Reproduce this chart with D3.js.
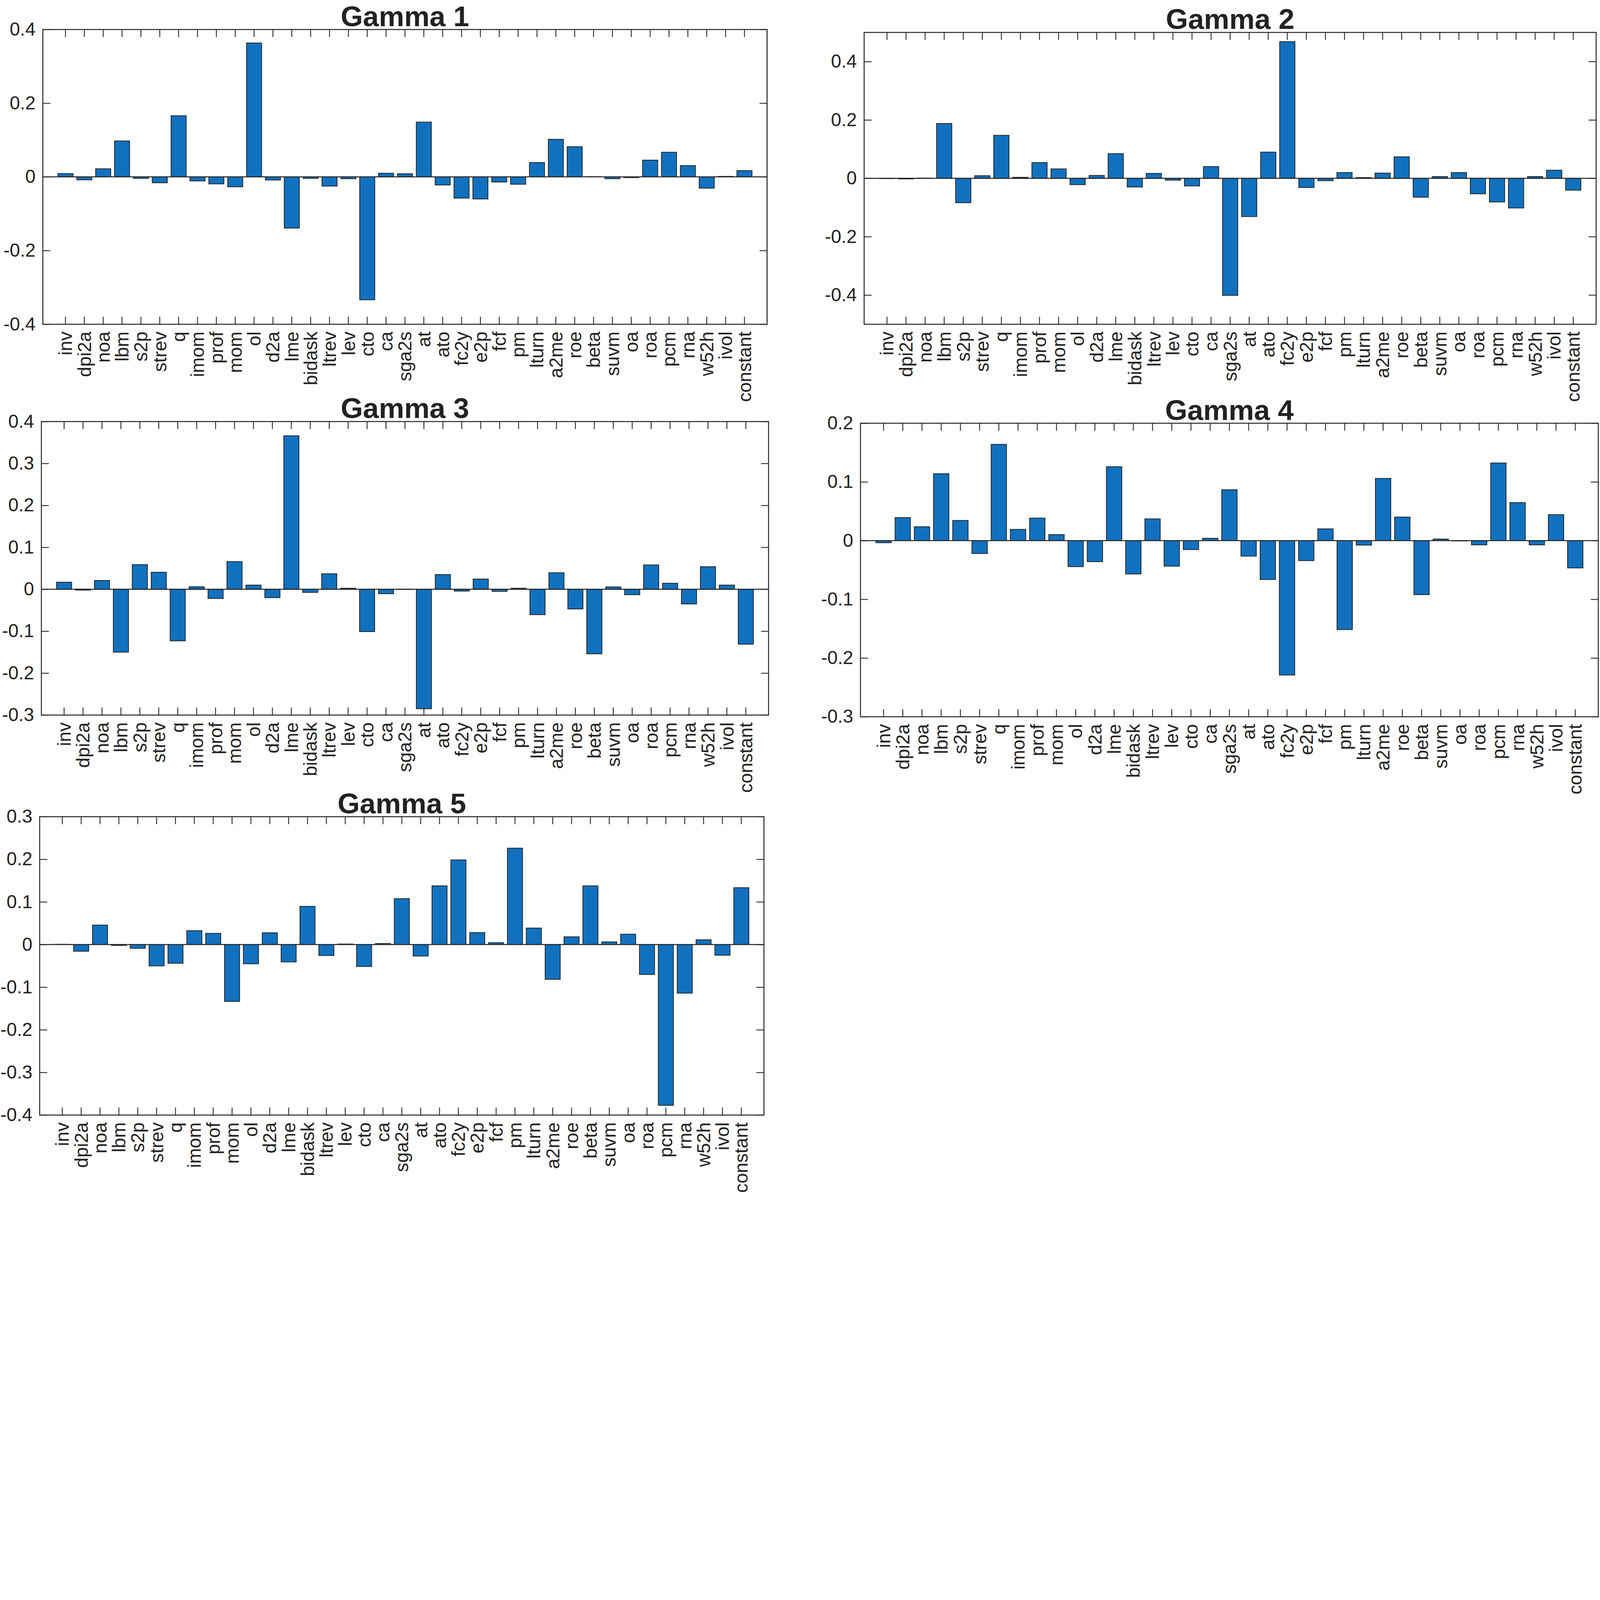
<!DOCTYPE html>
<html>
<head>
<meta charset="utf-8">
<script src="https://cdn.jsdelivr.net/npm/d3@7"></script>
<style>
  html, body { margin: 0; padding: 0; background: #fff; overflow: hidden; }
  svg { display: block; width: 100vw; height: 100vh; }
  text { font-family: "Liberation Sans", Arial, Helvetica, sans-serif; fill: #222; }
</style>
</head>
<body>
<svg id="chart" viewBox="0 0 6612 4932" preserveAspectRatio="xMinYMin meet"></svg>
<script>
// factor names, same order in every panel
var categories = ["inv","dpi2a","noa","lbm","s2p","strev","q","imom","prof","mom","ol","d2a","lme","bidask","ltrev","lev","cto","ca","sga2s","at","ato","fc2y","e2p","fcf","pm","lturn","a2me","roe","beta","suvm","oa","roa","pcm","rna","w52h","ivol","constant"];

var gamma1 = [0.009,-0.008,0.022,0.0975,-0.004,-0.016,0.166,-0.011,-0.019,-0.027,0.3635,-0.0085,-0.139,-0.004,-0.025,-0.005,-0.3336,0.010,0.0085,0.1487,-0.022,-0.0576,-0.060,-0.014,-0.020,0.039,0.102,0.082,0.0005,-0.005,-0.002,0.0455,0.067,0.0306,-0.0306,0.0014,0.017];
var gamma2 = [-0.001,-0.002,0.001,0.188,-0.0836,0.009,0.1474,0.0036,0.054,0.0324,-0.0216,0.0099,0.0845,-0.0297,0.017,-0.0063,-0.026,0.0404,-0.401,-0.131,0.0899,0.4683,-0.0315,-0.0081,0.0198,0.0027,0.018,0.0737,-0.0647,0.0063,0.0198,-0.053,-0.081,-0.1016,0.0063,0.0279,-0.0404];
var gamma3 = [0.0169,-0.002,0.021,-0.150,0.0588,0.0406,-0.123,0.006,-0.022,0.066,0.010,-0.020,0.366,-0.0075,0.037,0.0025,-0.101,-0.0106,-0.0006,-0.285,0.035,-0.0044,0.0244,-0.005,0.0025,-0.0606,0.0394,-0.047,-0.154,0.0056,-0.013,0.058,0.0144,-0.035,0.0538,0.010,-0.131];
var gamma4 = [-0.0036,0.0393,0.0237,0.114,0.0344,-0.0219,0.164,0.0192,0.0384,0.0103,-0.0443,-0.0358,0.126,-0.0568,0.0371,-0.0434,-0.0152,0.004,0.0867,-0.0264,-0.0662,-0.2289,-0.034,0.0201,-0.1515,-0.0076,0.106,0.0402,-0.092,0.0027,-0.0005,-0.0072,0.1323,0.0648,-0.0072,0.0443,-0.0465];
var gamma5 = [0.0006,-0.0157,0.0457,-0.002,-0.0088,-0.050,-0.0439,0.0326,0.0263,-0.1335,-0.0451,0.0276,-0.0407,0.0896,-0.0257,0.0013,-0.0514,0.0025,0.1078,-0.0269,0.1378,0.1986,0.0282,0.0044,0.2262,0.0388,-0.0815,0.0182,0.1378,0.0063,0.0244,-0.0702,-0.3772,-0.114,0.0113,-0.025,0.1335];

var titles = ["Gamma 1","Gamma 2","Gamma 3","Gamma 4","Gamma 5"];
var yTicks1 = [-0.4,-0.2,0,0.2,0.4];
var yTicks2 = [-0.4,-0.2,0,0.2,0.4];
var yTicks3 = [-0.3,-0.2,-0.1,0,0.1,0.2,0.3,0.4];
var yTicks4 = [-0.3,-0.2,-0.1,0,0.1,0.2];
var yTicks5 = [-0.4,-0.3,-0.2,-0.1,0,0.1,0.2,0.3];

// axes boxes [left, top, right, bottom] and y limits
var panels = [
  {title: titles[0], values: gamma1, ticks: yTicks1, ylim: [-0.4,0.4], box: [177,122,3170,1340]},
  {title: titles[1], values: gamma2, ticks: yTicks2, ylim: [-0.5,0.5], box: [3571,134,6596,1340]},
  {title: titles[2], values: gamma3, ticks: yTicks3, ylim: [-0.3,0.4], box: [171,1742,3176,2955]},
  {title: titles[3], values: gamma4, ticks: yTicks4, ylim: [-0.3,0.2], box: [3556,1749,6605,2962]},
  {title: titles[4], values: gamma5, ticks: yTicks5, ylim: [-0.4,0.3], box: [164,3375,3157,4608]}
];

var svg = d3.select("#chart");
var tickLen = 31, fontSize = 77;
var fmt = function(d){ return d === 0 ? "0" : String(+d.toFixed(2)); };

panels.forEach(function(p){
  var w = p.box[2] - p.box[0], h = p.box[3] - p.box[1];
  var g = svg.append("g").attr("transform", "translate(" + p.box[0] + "," + p.box[1] + ")");

  var x = d3.scaleBand().domain(categories).range([0, w]).paddingInner(0.2).paddingOuter(0.8);
  var y = d3.scaleLinear().domain(p.ylim).range([h, 0]);

  g.selectAll("rect.bar")
    .data(p.values)
    .enter()
    .append("rect")
    .attr("class", "bar")
    .attr("x", function(d, i){ return x(categories[i]); })
    .attr("width", x.bandwidth())
    .attr("y", function(d){ return y(Math.max(0, d)); })
    .attr("height", function(d){ return Math.abs(y(d) - y(0)); })
    .style("fill", "#1271be")
    .style("stroke", "#1c1c1c")
    .style("stroke-width", 3);

  // zero line
  g.append("line")
    .attr("x1", 0).attr("x2", w)
    .attr("y1", y(0)).attr("y2", y(0))
    .style("stroke", "#222").style("stroke-width", 4);

  var left = g.append("g").call(d3.axisLeft(y).tickValues(p.ticks).tickFormat(fmt).tickSize(-tickLen).tickPadding(30));
  var right = g.append("g").attr("transform", "translate(" + w + ",0)")
    .call(d3.axisRight(y).tickValues(p.ticks).tickFormat("").tickSize(-tickLen));
  var top = g.append("g").call(d3.axisTop(x).tickFormat("").tickSize(-tickLen));
  var bottom = g.append("g").attr("transform", "translate(0," + h + ")")
    .call(d3.axisBottom(x).tickSize(-tickLen).tickPadding(30));

  [left, right, top, bottom].forEach(function(a){
    a.select(".domain").remove();
    a.selectAll("line").style("stroke", "#222").style("stroke-width", 3.5);
    a.selectAll("text").style("font-size", fontSize + "px").style("fill", "#222").attr("font-family", null);
  });

  bottom.selectAll("text")
    .attr("transform", "rotate(-90)")
    .attr("text-anchor", "end")
    .attr("x", -30)
    .attr("y", 0)
    .attr("dy", "0.35em");

  // box
  g.append("rect")
    .attr("width", w).attr("height", h)
    .style("fill", "none").style("stroke", "#222").style("stroke-width", 4);

  g.append("text")
    .attr("x", w / 2)
    .attr("y", -14)
    .attr("text-anchor", "middle")
    .style("font-size", "118px")
    .style("font-weight", "bold")
    .text(p.title);
});
</script>
</body>
</html>
